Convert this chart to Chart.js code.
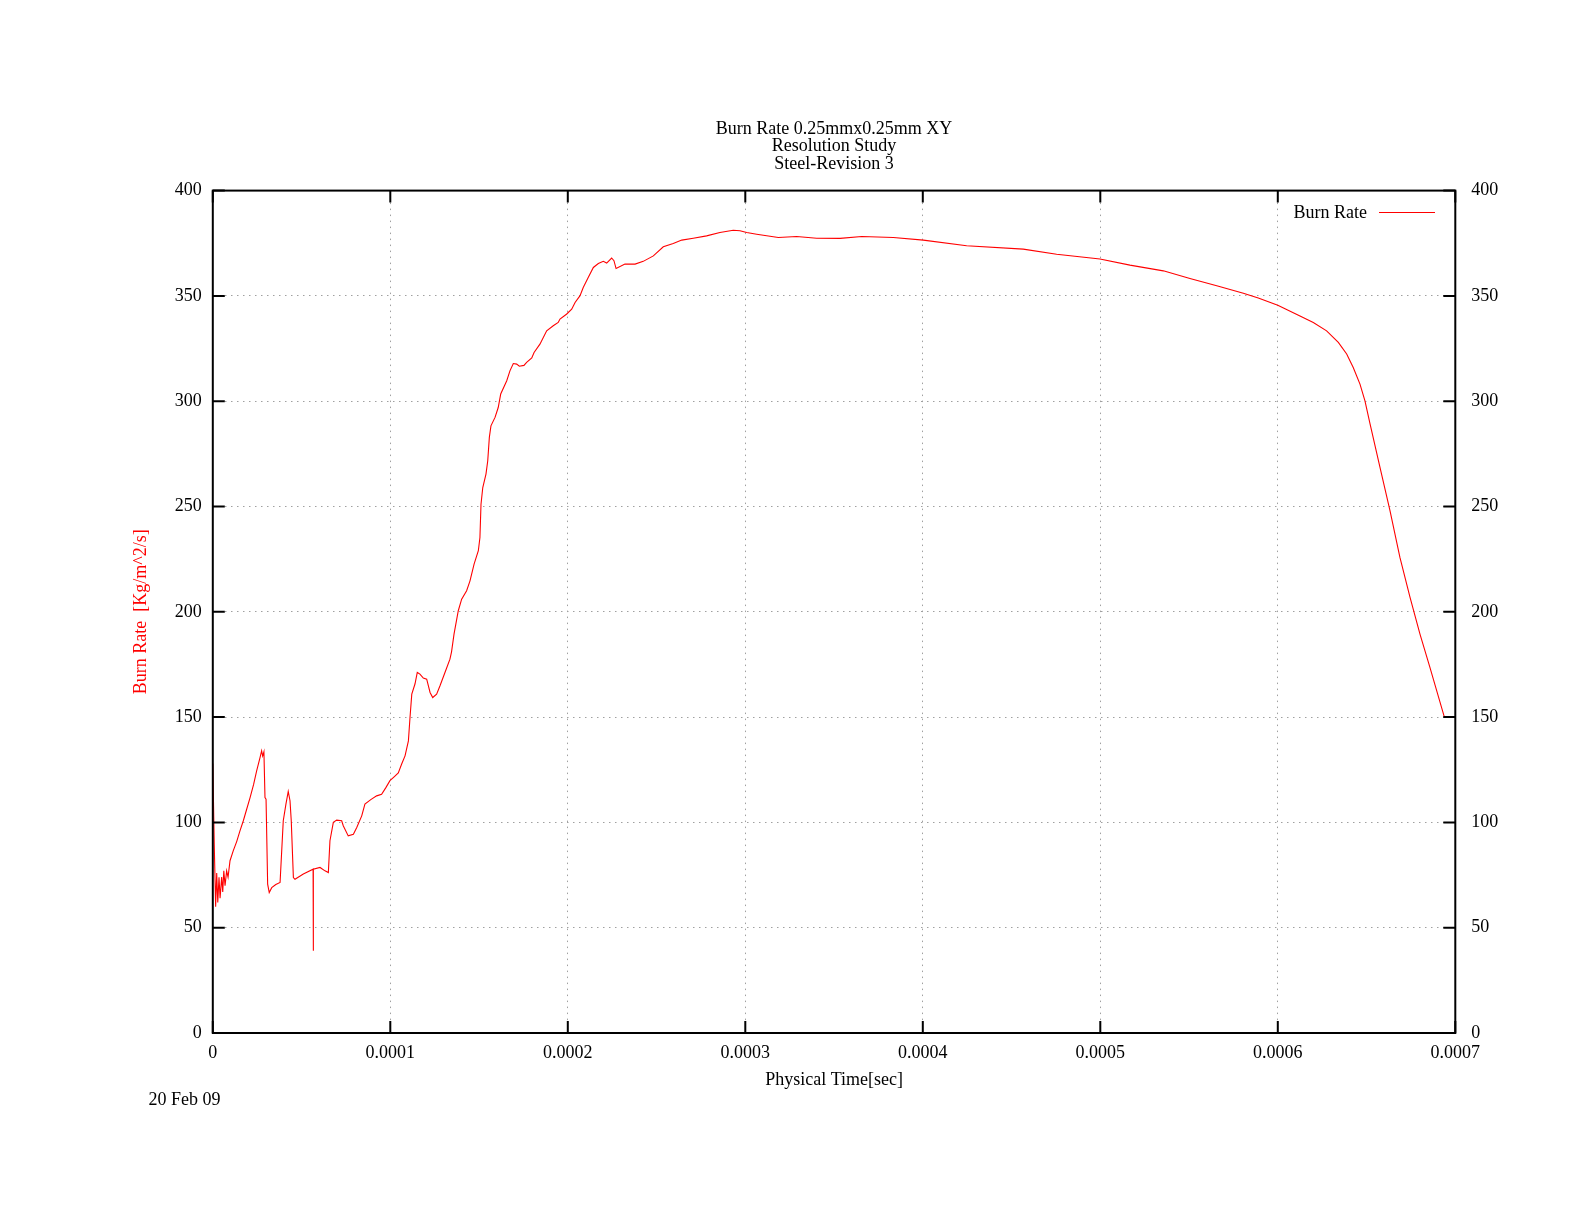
<!DOCTYPE html>
<html>
<head>
<meta charset="utf-8">
<title>Burn Rate</title>
<script src="https://cdn.jsdelivr.net/npm/chart.js@4.4.1/dist/chart.umd.min.js"></script>
<style>
  html, body { margin: 0; padding: 0; background: #fff; }
  #wrap { width: 1584px; height: 1224px; }
</style>
</head>
<body>
<div id="wrap"><canvas id="burnChart" width="1584" height="1224"></canvas></div>
<script>
const titleLines = ['Burn Rate 0.25mmx0.25mm XY', 'Resolution Study', 'Steel-Revision 3'];
const seriesName = 'Burn Rate';
const xTitle = 'Physical Time[sec]';
const yTitle = 'Burn Rate  [Kg/m^2/s]';
const dateText = '20 Feb 09';

// time in microseconds (axis labels are shown in seconds)
const timeUs = [
  0, 0.8, 1.6, 2.2, 2.8, 3.5, 4.1, 5.0, 5.6, 6.2, 6.9, 7.8, 8.6, 9.7, 11.5, 13.5, 15.3, 17.2, 19, 21,
  23, 24.7, 26.6, 27.5, 28.1, 28.8, 29.4, 30.0, 30.9, 31.8, 33.2, 35.5, 37.9, 39.7, 41.2, 42.5, 43.5, 44.2, 45.4, 46.3,
  51, 56.5, 56.6, 56.7, 60.4, 63.2, 65.1, 66.0, 67.9, 69.8, 72.6, 73.5, 76.3, 79.2, 81.1, 83.9, 85.7, 89, 92.3, 95.1,
  97.5, 99.8, 102, 104.5, 106.4, 108.3, 110.2, 111.1, 112.1, 113.9, 115.2, 116.7, 118.6, 120.5, 122.4, 123.9, 126.1, 128, 130.8, 133.6,
  134.5, 135.9, 138.3, 140.2, 143, 144.9, 147.2, 149.6, 150.5, 151.1, 152.1, 153.9, 154.9, 155.8, 156.7, 159, 160.8, 162.2, 165.6, 167.4,
  169.3, 171.2, 172.7, 175.3, 176.8, 179.7, 181, 184.3, 188.1, 191.8, 194.6, 195.6, 199.4, 202.2, 204.1, 206.9, 208.7, 211.5, 214.4, 217.2,
  220, 221.9, 224.7, 226, 227.2, 232.2, 237.9, 242.5, 248.2, 253.8, 259.4, 264.2, 270.7, 278.2, 285.7, 293.2, 297, 300.8, 306.4, 318.6,
  328.9, 340.2, 353.4, 365.6, 383.4, 400.3, 424.7, 456.6, 475.4, 499.8, 516.7, 535.5, 550.5, 565.6, 580.6, 589, 600, 612.5, 620, 627.5,
  634.1, 638.8, 642.5, 646.3, 649.1, 652, 657.6, 663.2, 668.8, 674.5, 680.1, 685.7, 693.8
];

const burnRate = [
  128, 90, 60, 76, 62, 74, 64, 74, 67, 77, 70, 77, 74, 81.8, 86.5, 91, 96, 100.8, 106, 111.8,
  118, 124.5, 130.8, 134, 131.5, 133.5, 111.8, 111, 70.7, 66.7, 69, 70.5, 71.5, 100.8, 108.7, 114.7, 110.3, 100.8, 73.8, 73,
  75.5, 77.8, 39, 77.8, 78.6, 77, 76.2, 91.3, 100, 101.1, 100.8, 98.4, 93.6, 94.4, 97.6, 103.1, 108.7, 110.8, 112.6, 113.4,
  116.5, 119.8, 121.5, 123.5, 127.7, 131.6, 138.7, 149.8, 160.9, 165.7, 171.2, 170.4, 168.5, 168, 161.7, 159.3, 160.9, 164.9, 171.2, 177.5,
  181, 189.4, 200.5, 206, 210, 214.7, 222.6, 229, 235.3, 251.1, 259, 265.4, 271.7, 282.8, 288.3, 292.3, 297, 303.4, 309.7, 314.4,
  317.9, 317.6, 316.6, 317, 318.4, 320.5, 323.1, 327.1, 333.4, 335.8, 337.4, 339, 341.4, 343.7, 346.9, 350.1, 354, 358.7, 363.5, 365.4,
  366.4, 365.6, 368, 366.7, 363, 365.1, 365.1, 366.4, 369, 373.3, 374.9, 376.5, 377.4, 378.5, 380.1, 381.2, 380.9, 380.1, 379.3, 377.7,
  378.2, 377.4, 377.3, 378.2, 377.7, 376.5, 373.8, 372.2, 369.8, 367.5, 364.6, 361.9, 358.3, 354.8, 351.3, 349, 345.6, 340.5, 337.4, 333.4,
  327.9, 322.4, 316, 308.1, 300.2, 289.1, 268.5, 248, 225.8, 206.8, 189.4, 173.6, 150.1
];

const xTicks = [0, 100, 200, 300, 400, 500, 600, 700];
const yTicks = [0, 50, 100, 150, 200, 250, 300, 350, 400];

const FONT = 'Liberation Serif';
const points = timeUs.map((t, i) => ({ x: t, y: burnRate[i] }));

const gnuplotFrame = {
  id: 'gnuplotFrame',
  afterDatasetsDraw(chart) {
    const ctx = chart.ctx;
    const a = chart.chartArea;
    const xs = chart.scales.x;
    const ys = chart.scales.y;
    ctx.save();
    ctx.strokeStyle = '#000';
    ctx.lineWidth = 2;
    ctx.beginPath();
    xTicks.forEach(v => {
      const px = xs.getPixelForValue(v);
      ctx.moveTo(px, a.bottom); ctx.lineTo(px, a.bottom - 12);
      ctx.moveTo(px, a.top); ctx.lineTo(px, a.top + 12);
    });
    yTicks.forEach(v => {
      const py = ys.getPixelForValue(v);
      ctx.moveTo(a.left, py); ctx.lineTo(a.left + 12, py);
      ctx.moveTo(a.right, py); ctx.lineTo(a.right - 12, py);
    });
    ctx.stroke();
    ctx.strokeRect(a.left, a.top, a.right - a.left, a.bottom - a.top);

    // title
    ctx.fillStyle = '#000';
    ctx.font = '18px "' + FONT + '"';
    ctx.textAlign = 'center';
    ctx.textBaseline = 'middle';
    const cx = (a.left + a.right) / 2;
    titleLines.forEach((line, i) => ctx.fillText(line, cx, 129 + i * 17.7));

    // legend
    ctx.textAlign = 'right';
    ctx.fillText(seriesName, 1367, 213);
    ctx.strokeStyle = '#ff0000';
    ctx.lineWidth = 1;
    ctx.beginPath();
    ctx.moveTo(1379, 212.5);
    ctx.lineTo(1435, 212.5);
    ctx.stroke();

    // date stamp
    ctx.textAlign = 'left';
    ctx.fillText(dateText, 148.5, 1100);
    ctx.restore();
  }
};

const tickFont = { family: FONT, size: 18 };

new Chart(document.getElementById('burnChart'), {
  type: 'line',
  data: {
    datasets: [{
      label: seriesName,
      data: points,
      borderColor: '#ff0000',
      borderWidth: 1.1,
      pointRadius: 0,
      tension: 0,
      fill: false
    }]
  },
  options: {
    responsive: false,
    animation: false,
    layout: { padding: { left: 0, top: 190.6, right: 68.7, bottom: 131 } },
    plugins: { legend: { display: false }, title: { display: false }, tooltip: { enabled: false } },
    scales: {
      x: {
        type: 'linear',
        min: 0,
        max: 700,
        afterFit: s => { s.height = 60; },
        afterBuildTicks: s => { s.ticks = xTicks.map(v => ({ value: v })); },
        ticks: {
          font: tickFont, color: '#000', padding: 9, maxRotation: 0,
          callback: v => v === 0 ? '0' : (v / 1e6).toFixed(4)
        },
        grid: { color: '#a0a0a0', lineWidth: 1, drawTicks: false },
        border: { display: false, dash: [1.5, 4.5] },
        title: { display: true, text: xTitle, font: tickFont, color: '#000', padding: { top: 0, bottom: 2 } }
      },
      y: {
        position: 'left',
        min: 0,
        max: 400,
        afterFit: s => { s.width = 212.8; },
        afterBuildTicks: s => { s.ticks = yTicks.map(v => ({ value: v })); },
        ticks: { font: tickFont, color: '#000', padding: 11 },
        grid: { color: '#a0a0a0', lineWidth: 1, drawTicks: false },
        border: { display: false, dash: [1.5, 4.5] },
        title: { display: true, text: yTitle, font: tickFont, color: '#ff0000', padding: { top: 130, bottom: 0 } }
      },
      y2: {
        position: 'right',
        min: 0,
        max: 400,
        afterFit: s => { s.width = 60; },
        afterBuildTicks: s => { s.ticks = yTicks.map(v => ({ value: v })); },
        ticks: { font: tickFont, color: '#000', padding: 16 },
        grid: { display: false, drawTicks: false },
        border: { display: false }
      }
    }
  },
  plugins: [gnuplotFrame]
});
</script>
</body>
</html>
